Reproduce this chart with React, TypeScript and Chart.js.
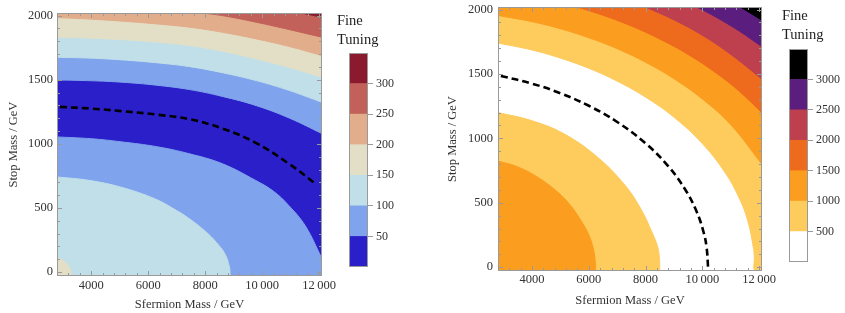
import React, { useEffect, useRef } from 'react';
import { Chart, registerables } from 'chart.js';

Chart.register(...registerables);
Chart.defaults.font.family = '"Liberation Serif", "Times New Roman", serif';

type Pt = [number, number];

// ---------- axes ----------
const xRange = [2800, 12100];
const yRange = [-30, 2020];
const xMajorTicks = [4000, 6000, 8000, 10000, 12000];
const xTickLabels = ['4000', '6000', '8000', '10\u2009000', '12\u2009000'];
const xMinorTicks = [3200, 3600, 4400, 4800, 5200, 5600, 6400, 6800, 7200, 7600, 8400, 8800, 9200, 9600, 10400, 10800, 11200, 11600];
const yMajorTicks = [0, 500, 1000, 1500, 2000];
const yTickLabels = ['0', '500', '1000', '1500', '2000'];
const yMinorTicks = [100, 200, 300, 400, 600, 700, 800, 900, 1100, 1200, 1300, 1400, 1600, 1700, 1800, 1900];

// ---------- left panel: contour boundaries (Sfermion mass, Stop mass) ----------
const leftBandColors = ['#2a1fc8', '#7fa3ec', '#c1dfe8', '#e3dfc6', '#e2ad8b', '#c2615a', '#8b1a2f'];
const leftLevels = [0, 50, 100, 150, 200, 250, 300, 350];
const leftBarTicks = [50, 100, 150, 200, 250, 300];

const leftFT50Upper: Pt[] = [[2800, 1498], [4000, 1492], [5115, 1480], [6300, 1457], [7455, 1423], [8600, 1370], [9795, 1298], [10965, 1200], [12100, 1080]];
const leftFT100Upper: Pt[] = [[2800, 1675], [4000, 1668], [5115, 1654], [6300, 1632], [7455, 1602], [8600, 1555], [9795, 1493], [10965, 1415], [12100, 1324]];
const leftFT150Upper: Pt[] = [[2800, 1831], [4000, 1824], [5115, 1812], [6300, 1793], [7455, 1766], [8600, 1722], [9795, 1662], [10965, 1595], [12100, 1519]];
const leftFT200Upper: Pt[] = [[2800, 1984], [4000, 1972], [5115, 1956], [6300, 1935], [7455, 1909], [8600, 1870], [9795, 1818], [10965, 1758], [12100, 1688]];
const leftFT250Upper: Pt[] = [[7923, 2020], [8600, 2000], [9795, 1948], [10965, 1890], [12100, 1831]];
const leftFT300Upper: Pt[] = [[11375, 2020], [11700, 2005], [12100, 1987]];
const leftFT50Lower: Pt[] = [[2800, 1054], [4000, 1040], [5082, 1015], [6300, 978], [7422, 924], [8592, 846], [9762, 716], [10400, 630], [10932, 520], [11517, 360], [12100, 105]];
const leftFT100Lower: Pt[] = [[2800, 742], [3912, 716], [5082, 660], [6252, 570], [7000, 480], [7422, 420], [8007, 318], [8400, 230], [8700, 140], [8850, 40], [8880, -30]];
const leftFT150Lower: Pt[] = [[2800, 113], [2950, 98], [3100, 74], [3200, 52], [3270, 20], [3300, -30]];
const leftTarget: Pt[] = [[2900, 1288], [4000, 1275], [5115, 1254], [6300, 1228], [7455, 1192], [8600, 1120], [9762, 1010], [10932, 846], [11868, 690]];

// ---------- right panel ----------
const rightBandColors = ['#ffffff', '#fecb5d', '#fb9d1f', '#ee6a1c', '#be404f', '#5c1e7e', '#000000'];
const rightLevels = [0, 500, 1000, 1500, 2000, 2500, 3000, 3500];
const rightBarTicks = [500, 1000, 1500, 2000, 2500, 3000];

const rightFT500Outer: Pt[] = [[2800, 1740], [4000, 1686], [5000, 1623], [6000, 1544], [7000, 1444], [8000, 1320], [9000, 1164], [10000, 959], [10800, 734], [11300, 535], [11600, 359], [11800, 147], [11830, 74], [11842, -30], [12100, -30]];
const rightFT1000Outer: Pt[] = [[2800, 1954], [4000, 1906], [5000, 1851], [6000, 1781], [7000, 1696], [8000, 1591], [9000, 1463], [10000, 1305], [11000, 1106], [12100, 799]];
const rightFT1500Outer: Pt[] = [[5583, 2020], [6500, 1956], [7500, 1872], [8500, 1771], [9500, 1651], [10500, 1505], [11300, 1366], [12100, 1198]];
const rightFT2000Outer: Pt[] = [[7990, 2020], [9000, 1920], [10000, 1800], [11000, 1652], [12100, 1460]];
const rightFT2500Outer: Pt[] = [[9810, 2020], [10500, 1939], [11300, 1833], [12100, 1711]];
const rightFT3000Outer: Pt[] = [[11332, 2020], [11700, 1971], [12100, 1915]];
const rightFT500Inner: Pt[] = [[2800, 1200], [3949, 1140], [5125, 1035], [6298, 855], [7239, 645], [7824, 455], [8236, 265], [8420, 160], [8490, 60], [8500, -30]];
const rightFT1000Inner: Pt[] = [[2800, 824], [3480, 780], [4185, 700], [4889, 585], [5358, 478], [5770, 345], [6000, 250], [6150, 150], [6225, 50], [6240, -30]];
const rightTarget: Pt[] = [[2900, 1485], [4000, 1425], [5000, 1350], [6000, 1253], [7000, 1127], [8000, 961], [8800, 783], [9400, 601], [9800, 430], [10050, 265], [10150, 150], [10200, 0]];

// ---------- helpers ----------
const FRAME = '#9a9a9a';
const TEXT = '#333333';

function framePlugin(bg: string | null, withTicks: boolean) {
  return {
    id: 'frameTicks',
    beforeDatasetsDraw(chart: any) {
      if (!bg) return;
      const { ctx, chartArea: a } = chart;
      ctx.save();
      ctx.fillStyle = bg;
      ctx.fillRect(a.left, a.top, a.right - a.left, a.bottom - a.top);
      ctx.restore();
    },
    afterDatasetsDraw(chart: any) {
      const { ctx, chartArea: a, scales } = chart;
      ctx.save();
      ctx.strokeStyle = FRAME;
      ctx.lineWidth = 1;
      if (withTicks) {
        const xs = scales.x;
        const ys = scales.y;
        ctx.beginPath();
        const vx = (vals: number[], len: number) => {
          vals.forEach((v) => {
            const p = Math.round(xs.getPixelForValue(v)) + 0.5;
            ctx.moveTo(p, a.bottom); ctx.lineTo(p, a.bottom - len);
            ctx.moveTo(p, a.top); ctx.lineTo(p, a.top + len);
          });
        };
        const vy = (vals: number[], len: number) => {
          vals.forEach((v) => {
            const p = Math.round(ys.getPixelForValue(v)) + 0.5;
            ctx.moveTo(a.left, p); ctx.lineTo(a.left + len, p);
            ctx.moveTo(a.right, p); ctx.lineTo(a.right - len, p);
          });
        };
        vx(xMajorTicks, 5); vx(xMinorTicks, 3);
        vy(yMajorTicks, 5); vy(yMinorTicks, 3);
        ctx.stroke();
      }
      ctx.strokeRect(Math.round(a.left) + 0.5, Math.round(a.top) + 0.5, Math.round(a.right - a.left) - 1, Math.round(a.bottom - a.top) - 1);
      ctx.restore();
    },
  };
}

interface Layer { data: Pt[]; color: string; fill: 'start' | 'end'; }
interface PanelSpec {
  layers: Layer[]; target: Pt[]; bg: string;
  yAxisW: number; xAxisH: number; padTop: number; padRight: number;
  xTickPad: number; yTickPad: number; xTitlePad: number; yTitlePad: number;
}

function contourConfig(spec: PanelSpec): any {
  const n = spec.layers.length;
  const datasets: any[] = spec.layers.map((l, i) => ({
    type: 'line',
    data: l.data.map(([x, y]) => ({ x, y })),
    borderColor: l.color,
    backgroundColor: l.color,
    borderWidth: 1,
    fill: l.fill,
    pointRadius: 0,
    pointHoverRadius: 0,
    tension: 0.4,
    order: n - i + 1,
  }));
  datasets.push({
    type: 'line',
    data: spec.target.map(([x, y]) => ({ x, y })),
    borderColor: '#000000',
    borderWidth: 2.6,
    borderDash: [7, 4],
    fill: false,
    pointRadius: 0,
    pointHoverRadius: 0,
    tension: 0.4,
    order: 0,
  });
  return {
    type: 'line',
    data: { datasets },
    options: {
      responsive: false,
      animation: false,
      devicePixelRatio: 1,
      events: [],
      layout: { padding: { top: spec.padTop, right: spec.padRight, left: 0, bottom: 0 } },
      plugins: { legend: { display: false }, tooltip: { enabled: false } },
      scales: {
        x: {
          type: 'linear', min: xRange[0], max: xRange[1], bounds: 'data',
          grid: { display: false, drawTicks: false },
          border: { display: false },
          afterBuildTicks: (s: any) => { s.ticks = xMajorTicks.map((v) => ({ value: v })); },
          ticks: {
            autoSkip: false, maxRotation: 0, padding: spec.xTickPad, color: TEXT, font: { size: 12.5 },
            callback: (_v: any, i: number) => xTickLabels[i],
          },
          title: { display: true, text: 'Sfermion Mass / GeV', color: TEXT, font: { size: 12.5 }, padding: { top: 0, bottom: spec.xTitlePad } },
          afterFit: (s: any) => { s.height = spec.xAxisH; s.paddingLeft = 0; s.paddingRight = 0; },
        },
        y: {
          type: 'linear', min: yRange[0], max: yRange[1], bounds: 'data',
          grid: { display: false, drawTicks: false },
          border: { display: false },
          afterBuildTicks: (s: any) => { s.ticks = yMajorTicks.map((v) => ({ value: v })); },
          ticks: {
            autoSkip: false, padding: spec.yTickPad, color: TEXT, font: { size: 12.5 },
            callback: (_v: any, i: number) => yTickLabels[i],
          },
          title: { display: true, text: 'Stop Mass / GeV', color: TEXT, font: { size: 12.5 }, padding: { top: spec.yTitlePad, bottom: 0 } },
          afterFit: (s: any) => { s.width = spec.yAxisW; s.paddingTop = 0; s.paddingBottom = 0; },
        },
      },
    },
    plugins: [framePlugin(spec.bg, true)],
  };
}

interface BarSpec { levels: number[]; colors: string[]; ticks: number[]; padLeft: number; padTop: number; padBottom: number; axisW: number; }

function colorbarConfig(spec: BarSpec): any {
  return {
    type: 'bar',
    data: {
      labels: [''],
      datasets: spec.colors.map((c, i) => ({
        data: [[spec.levels[i], spec.levels[i + 1]]],
        backgroundColor: c,
        borderWidth: 0,
        barPercentage: 1,
        categoryPercentage: 1,
        grouped: false,
      })),
    },
    options: {
      responsive: false,
      animation: false,
      devicePixelRatio: 1,
      events: [],
      layout: { padding: { left: spec.padLeft, top: spec.padTop, bottom: spec.padBottom, right: 0 } },
      plugins: { legend: { display: false }, tooltip: { enabled: false } },
      scales: {
        x: { display: false },
        y: {
          position: 'right',
          min: spec.levels[0], max: spec.levels[spec.levels.length - 1], bounds: 'data',
          grid: { display: true, drawOnChartArea: false, drawTicks: true, tickLength: 5, color: FRAME },
          border: { display: false },
          afterBuildTicks: (s: any) => { s.ticks = spec.ticks.map((v) => ({ value: v })); },
          ticks: { padding: 3, color: TEXT, font: { size: 12 }, callback: (v: any) => String(v) },
          afterFit: (s: any) => { s.width = spec.axisW; s.paddingTop = 0; s.paddingBottom = 0; },
        },
      },
    },
    plugins: [framePlugin(null, false)],
  };
}

const leftSpec: PanelSpec = {
  layers: [
    { data: leftFT50Upper, color: leftBandColors[1], fill: 'end' },
    { data: leftFT100Upper, color: leftBandColors[2], fill: 'end' },
    { data: leftFT150Upper, color: leftBandColors[3], fill: 'end' },
    { data: leftFT200Upper, color: leftBandColors[4], fill: 'end' },
    { data: leftFT250Upper, color: leftBandColors[5], fill: 'end' },
    { data: leftFT300Upper, color: leftBandColors[6], fill: 'end' },
    { data: leftFT50Lower, color: leftBandColors[1], fill: 'start' },
    { data: leftFT100Lower, color: leftBandColors[2], fill: 'start' },
    { data: leftFT150Lower, color: leftBandColors[3], fill: 'start' },
  ],
  target: leftTarget,
  bg: leftBandColors[0],
  yAxisW: 57, xAxisH: 37, padTop: 13, padRight: 23,
  xTickPad: 2, yTickPad: 4, xTitlePad: 1, yTitlePad: 6,
};

const rightSpec: PanelSpec = {
  layers: [
    { data: rightFT500Outer, color: rightBandColors[1], fill: 'end' },
    { data: rightFT1000Outer, color: rightBandColors[2], fill: 'end' },
    { data: rightFT1500Outer, color: rightBandColors[3], fill: 'end' },
    { data: rightFT2000Outer, color: rightBandColors[4], fill: 'end' },
    { data: rightFT2500Outer, color: rightBandColors[5], fill: 'end' },
    { data: rightFT3000Outer, color: rightBandColors[6], fill: 'end' },
    { data: rightFT500Inner, color: rightBandColors[1], fill: 'start' },
    { data: rightFT1000Inner, color: rightBandColors[2], fill: 'start' },
  ],
  target: rightTarget,
  bg: rightBandColors[0],
  yAxisW: 58, xAxisH: 42, padTop: 7, padRight: 23,
  xTickPad: 1, yTickPad: 5, xTitlePad: 5, yTitlePad: 5,
};

const leftBar: BarSpec = { levels: leftLevels, colors: leftBandColors, ticks: leftBarTicks, padLeft: 19, padTop: 53, padBottom: 46, axisW: 52 };
const rightBar: BarSpec = { levels: rightLevels, colors: rightBandColors, ticks: rightBarTicks, padLeft: 19, padTop: 49, padBottom: 51, axisW: 37 };

function ChartCanvas({ left, width, makeConfig }: { left: number; width: number; makeConfig: () => any }) {
  const ref = useRef<HTMLCanvasElement>(null);
  useEffect(() => {
    const chart = new Chart(ref.current as HTMLCanvasElement, makeConfig());
    return () => chart.destroy();
  }, []);
  return (
    <canvas
      ref={ref}
      width={width}
      height={313}
      style={{ position: 'absolute', left, top: 0, width, height: 313, display: 'block' }}
    />
  );
}

const titleStyle: React.CSSProperties = {
  position: 'absolute',
  fontFamily: '"Liberation Serif", "Times New Roman", serif',
  fontSize: '14.5px',
  lineHeight: '19px',
  color: '#222',
  whiteSpace: 'nowrap',
};

export default function App() {
  return (
    <div style={{ position: 'absolute', left: 0, top: 0, width: 845, height: 313, background: '#ffffff', overflow: 'hidden' }}>
      <ChartCanvas left={0} width={345} makeConfig={() => contourConfig(leftSpec)} />
      <ChartCanvas left={330} width={90} makeConfig={() => colorbarConfig(leftBar)} />
      <ChartCanvas left={440} width={345} makeConfig={() => contourConfig(rightSpec)} />
      <ChartCanvas left={770} width={75} makeConfig={() => colorbarConfig(rightBar)} />
      <div style={{ ...titleStyle, left: 337, top: 10.6 }}>Fine<br />Tuning</div>
      <div style={{ ...titleStyle, left: 782, top: 5.6 }}>Fine<br />Tuning</div>
    </div>
  );
}
